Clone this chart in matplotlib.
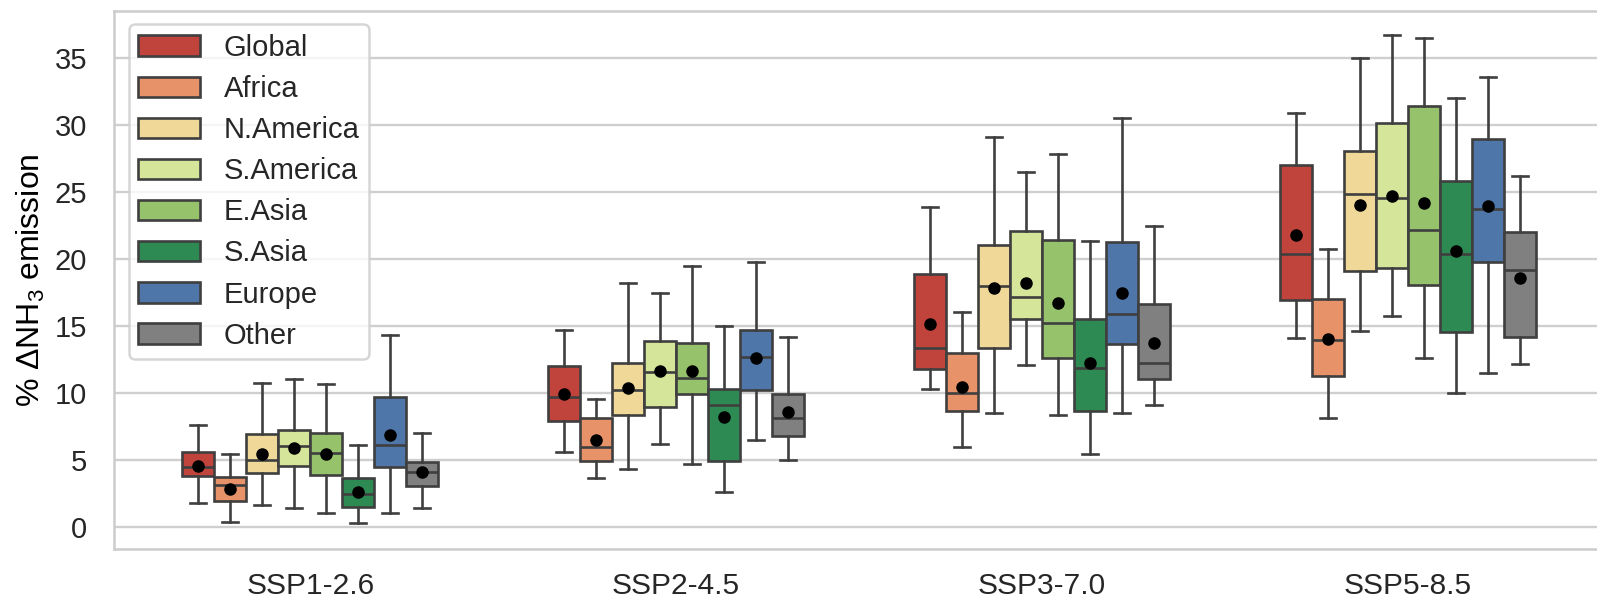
import matplotlib
matplotlib.use("Agg")
import matplotlib.pyplot as plt
from matplotlib.patches import Patch

plt.rcParams['font.family'] = ['Liberation Sans', 'DejaVu Sans']
plt.rcParams['mathtext.fontset'] = 'custom'
plt.rcParams['mathtext.rm'] = 'Liberation Sans'
plt.rcParams['mathtext.it'] = 'Liberation Sans:italic'
plt.rcParams['text.color'] = '#262626'

scenarios = ["SSP1-2.6", "SSP2-4.5", "SSP3-7.0", "SSP5-8.5"]
regions = ["Global", "Africa", "N.America", "S.America", "E.Asia", "S.Asia", "Europe", "Other"]
colors = ["#c0443b", "#e8926a", "#f0d898", "#d5e59a", "#96c26c", "#2c8a52", "#4e76a8", "#808080"]

whis_hi = [
    [7.63, 5.4, 10.77, 11.0, 10.63, 6.09, 14.31, 7.0],
    [14.66, 9.57, 18.19, 17.47, 19.45, 14.98, 19.75, 14.16],
    [23.86, 16.07, 29.08, 26.47, 27.81, 21.34, 30.5, 22.46],
    [30.89, 20.73, 35.0, 36.75, 36.5, 32.01, 33.61, 26.21],
]
q3 = [
    [5.57, 3.74, 6.91, 7.23, 7.0, 3.63, 9.71, 4.86],
    [12.0, 8.1, 12.2, 13.86, 13.74, 10.26, 14.73, 9.91],
    [18.88, 12.99, 21.07, 22.09, 21.42, 15.52, 21.27, 16.64],
    [27.03, 17.0, 28.05, 30.17, 31.44, 25.84, 28.97, 21.98],
]
median = [
    [4.49, 3.11, 5.0, 6.0, 5.54, 2.43, 6.11, 4.06],
    [9.69, 5.94, 10.19, 11.58, 11.13, 9.07, 12.65, 8.12],
    [13.38, 9.98, 17.96, 17.16, 15.2, 11.89, 15.9, 12.26],
    [20.36, 13.93, 24.84, 24.57, 22.2, 20.36, 23.7, 19.16],
]
q1 = [
    [3.77, 1.91, 4.0, 4.57, 3.86, 1.46, 4.43, 3.06],
    [7.88, 4.89, 8.37, 8.92, 9.91, 4.94, 10.21, 6.81],
    [11.77, 8.63, 13.36, 15.52, 12.64, 8.68, 13.68, 11.02],
    [16.97, 11.27, 19.07, 19.34, 18.02, 14.58, 19.76, 14.18],
]
whis_lo = [
    [1.74, 0.34, 1.63, 1.4, 1.03, 0.26, 1.03, 1.4],
    [5.59, 3.65, 4.32, 6.19, 4.7, 2.61, 6.48, 5.02],
    [10.27, 5.95, 8.48, 12.09, 8.38, 5.42, 8.48, 9.1],
    [14.08, 8.13, 14.61, 15.73, 12.61, 10.0, 11.52, 12.12],
]
means = [
    [4.54, 2.83, 5.43, 5.86, 5.43, 2.57, 6.89, 4.09],
    [9.94, 6.46, 10.36, 11.63, 11.65, 8.17, 12.6, 8.55],
    [15.15, 10.47, 17.86, 18.18, 16.72, 12.24, 17.49, 13.73],
    [21.78, 14.01, 24.05, 24.72, 24.2, 20.61, 23.97, 18.59],
]

W, H = 1597, 600
fig = plt.figure(figsize=(W / 100, H / 100), dpi=100)
ax_left, ax_right, ax_top, ax_bot = 114, 1604, 10.7, 549
ax = fig.add_axes([ax_left / W, 1 - ax_bot / H, (ax_right - ax_left) / W, (ax_bot - ax_top) / H])

edge = '#3f3f3f'
lw = 1.9
n = len(regions)
bw = 0.7 / n
for i, sc in enumerate(scenarios):
    for j, reg in enumerate(regions):
        pos = i + (j - (n - 1) / 2) * bw
        st = [dict(med=median[i][j], q1=q1[i][j], q3=q3[i][j], whislo=whis_lo[i][j],
                   whishi=whis_hi[i][j], mean=means[i][j], fliers=[])]
        ax.bxp(st, positions=[pos], widths=bw, patch_artist=True, showmeans=True,
               showfliers=False, manage_ticks=False,
               boxprops=dict(facecolor=colors[j], edgecolor=edge, linewidth=lw),
               whiskerprops=dict(color=edge, linewidth=lw),
               capprops=dict(color=edge, linewidth=lw),
               medianprops=dict(color=edge, linewidth=lw),
               meanprops=dict(marker='o', markerfacecolor='black', markeredgecolor='black',
                              markersize=8))

ax.set_xlim(-0.537, 3.537)
ax.set_ylim(-1.66, 38.54)
ax.set_xticks(range(len(scenarios)))
ax.set_xticklabels(scenarios)
ax.set_yticks([0, 5, 10, 15, 20, 25, 30, 35])
ax.tick_params(axis='both', length=0, labelsize=21.5, colors='#262626')
ax.tick_params(axis='y', pad=19.5, labelsize=21)
ax.tick_params(axis='x', pad=16.5)
ax.grid(axis='y', color='#cfcfcf', linewidth=1.7)
ax.set_axisbelow(True)
for s in ax.spines.values():
    s.set_color('#cccccc')
    s.set_linewidth(1.8)
ax.set_ylabel('% ΔNH$_3$ emission', fontsize=23, labelpad=5)

handles = [Patch(facecolor=c, edgecolor=edge, linewidth=lw, label=r) for c, r in zip(colors, regions)]
axw = ax_right - ax_left
axh = ax_bot - ax_top
leg = ax.legend(handles=handles, loc='upper left',
                bbox_to_anchor=((129 - ax_left) / axw, 1 - (24.5 - ax_top) / axh),
                borderaxespad=0, fontsize=21, handlelength=2.1, handleheight=0.7,
                handletextpad=0.82, labelspacing=0.45, borderpad=0.32, framealpha=0.8,
                fancybox=True)
leg.get_frame().set_edgecolor('#cccccc')
leg.get_frame().set_linewidth(1.8)

fig.savefig('out.png', dpi=100)
